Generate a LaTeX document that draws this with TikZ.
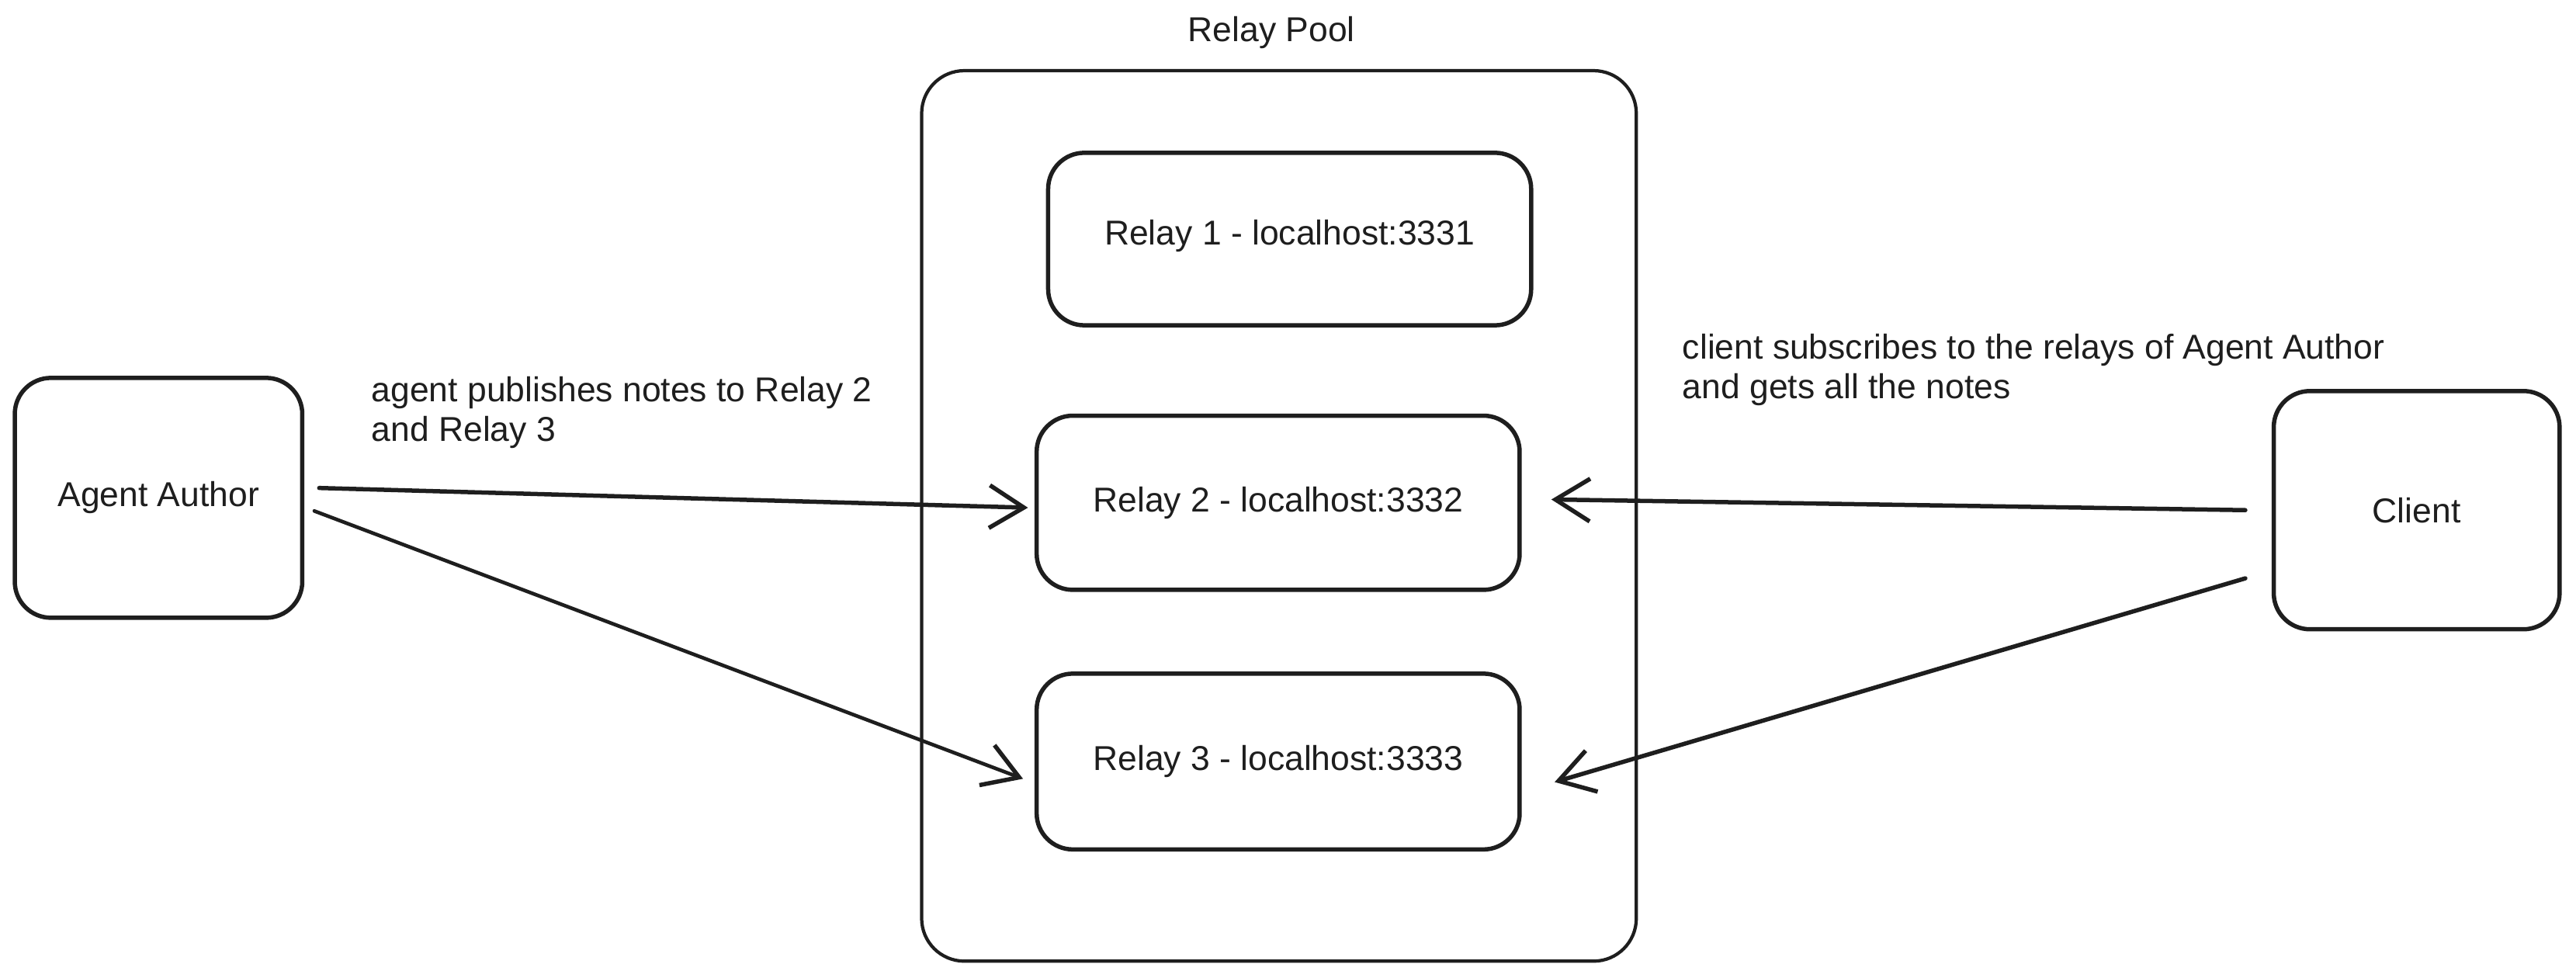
\documentclass[tikz,border=0pt]{standalone}
\usepackage{fontspec}
\setmainfont{Liberation Sans}
\usetikzlibrary{arrows.meta,calc}
\definecolor{ink}{HTML}{1E1E1E}
\begin{document}
\begin{tikzpicture}[x=1pt,y=-1pt,
  box/.style={draw=ink, line width=2.6pt, rounded corners=22pt, inner sep=0pt, align=center, text=ink, font=\fontsize{21}{23}\selectfont},
  poolbox/.style={draw=ink, line width=2pt, rounded corners=26pt, inner sep=0pt},
  lbl/.style={text=ink, font=\fontsize{21}{24}\selectfont, align=left, inner sep=0pt, anchor=north west},
  conn/.style={draw=ink, line width=2.6pt, line cap=round, -{Straight Barb[length=21pt,width=26pt,line width=2.6pt]}}
]
\useasboundingbox[fill=white] (0,0) rectangle (1568,595);

% Relay pool container
\node[poolbox, minimum width=435pt, minimum height=542pt] (pool) at (778.5,314) {};
\node[text=ink, font=\fontsize{21}{23}\selectfont, inner sep=0pt] (pooltitle) at (774,20) {Relay Pool};

% Relays
\node[box, minimum width=294pt, minimum height=105pt] (r1) at (785,145.5) {\raisebox{8pt}{Relay 1 - localhost:3331}};
\node[box, minimum width=294pt, minimum height=106pt] (r2) at (778,306) {Relay 2 - localhost:3332};
\node[box, minimum width=294pt, minimum height=107pt] (r3) at (778,463.5) {Relay 3 - localhost:3333};

% Agent and client
\node[box, minimum width=175pt, minimum height=146pt] (agent) at (96.5,303) {Agent Author};
\node[box, minimum width=174pt, minimum height=145pt] (client) at (1471,310.5) {Client};

% Labels
\node[lbl] (lblL) at (226,229) {agent publishes notes to Relay 2\\and Relay 3};
\node[lbl] (lblR) at (1024,203) {client subscribes to the relays of Agent Author\\and gets all the notes};

% Connectors
\draw[conn] ([xshift=9pt,yshift=6pt]agent.east) -- ([xshift=-4pt,yshift=-3pt]r2.west);
\draw[conn, line width=2.2pt] ([xshift=6pt,yshift=-8pt]agent.east) -- ([xshift=-7pt,yshift=-10.5pt]r3.west);
\draw[conn] ([xshift=-16pt]client.west) -- ([xshift=18pt,yshift=2pt]r2.east);
\draw[conn] ([xshift=-16pt,yshift=-41.5pt]client.west) -- ([xshift=20pt,yshift=-12.5pt]r3.east);
\end{tikzpicture}
\end{document}
